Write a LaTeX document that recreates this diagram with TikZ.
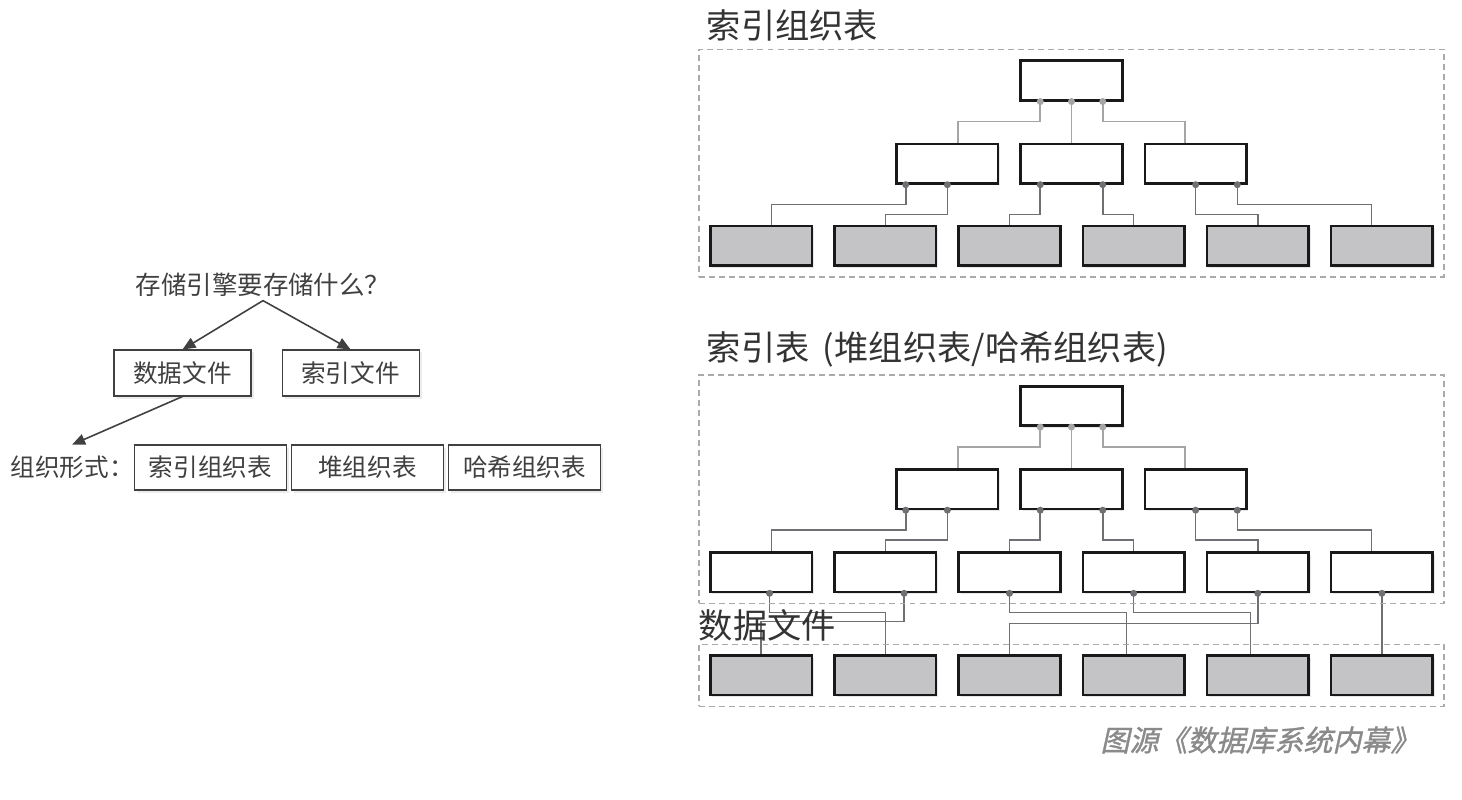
\documentclass[tikz,border=0pt]{standalone}
\usepackage{fontspec}
\usepackage{tikz}
\usetikzlibrary{arrows.meta, positioning, calc, fit, shadows}
\newfontfamily\cjk{Noto Sans CJK SC}
\newfontfamily\cjkslant[FakeSlant=0.22, FakeBold=1.2]{Noto Sans CJK SC}
\definecolor{linedark}{RGB}{64,64,64}
\definecolor{wiregray}{RGB}{112,112,116}
\definecolor{wirelight}{RGB}{165,165,165}
\definecolor{leafgray}{RGB}{196,196,198}
\definecolor{framegray}{RGB}{170,170,170}
\definecolor{capgray}{RGB}{138,138,138}

\begin{document}
\begin{tikzpicture}[
  pick/.style={rectangle, draw=linedark, fill=white, line width=0.6pt, minimum height=0.92cm, minimum width=2.74cm,
               inner sep=0pt, font=\cjk\fontsize{14}{16}\selectfont, text=linedark,
               drop shadow={shadow xshift=0.05cm, shadow yshift=-0.05cm, fill=gray!30}},
  form/.style={pick, minimum width=3.04cm, minimum height=0.9cm},
  idx/.style={rectangle, draw=black!90, fill=white, line width=1.5pt, minimum width=2.03cm, minimum height=0.79cm,
              inner sep=0pt, drop shadow={shadow xshift=0.04cm, shadow yshift=-0.04cm, fill=gray!35}},
  leafbox/.style={idx, fill=leafgray},
  frame/.style={draw=framegray, dash pattern=on 3.4pt off 2.3pt, line width=0.85pt, inner sep=0.2cm},
  heading/.style={anchor=south west, inner sep=0pt, font=\cjk\fontsize{19.5}{22}\selectfont, text=black!80},
  arrow/.style={-{Triangle[length=2.6mm, width=2.2mm]}, line width=0.9pt, linedark},
  wireA/.style={line width=0.9pt, wirelight},
  wireB/.style={line width=0.9pt, wiregray},
  jdotA/.style={circle, fill=wirelight, inner sep=0pt, minimum size=0.14cm},
  jdotB/.style={circle, fill=wiregray, inner sep=0pt, minimum size=0.14cm}
]
\useasboundingbox (0,0) rectangle (29.24,-16);

% left: what the storage engine stores
\node[font=\cjk\fontsize{14.5}{17}\selectfont, text=linedark, inner sep=2pt] (ask) at (5.26,-5.70) {存储引擎要存储什么？};
\node[pick] (datafile) at (3.65,-7.46) {数据文件};
\node[pick, right=0.6cm of datafile] (idxfile) {索引文件};

\node[form] (iot) at (4.21,-9.35) {索引组织表};
\node[form, right=0.08cm of iot] (heap) {堆组织表};
\node[form, right=0.08cm of heap] (hash) {哈希组织表};
\node[anchor=east, inner sep=0pt, minimum height=0.9cm, font=\cjk\fontsize{14}{16}\selectfont, text=linedark] (orgform) at (iot.west) {组织形式：};

\draw[arrow] (ask.south) -- (datafile.north);
\draw[arrow] (ask.south) -- (idxfile.north);
\draw[arrow] (datafile.south) -- (orgform.north);

% right, top: index-organized table
\node[idx] (t0) at (21.43,-1.61) {};
\node[idx, below=0.82cm of t0] (tm2) {};
\node[idx, left=0.4cm of tm2] (tm1) {};
\node[idx, right=0.4cm of tm2] (tm3) {};
\node[leafbox, below=0.8cm of tm2, xshift=-1.24cm] (tl3) {};
\node[leafbox, left=0.4cm of tl3] (tl2) {};
\node[leafbox, left=0.4cm of tl2] (tl1) {};
\node[leafbox, right=0.4cm of tl3] (tl4) {};
\node[leafbox, right=0.4cm of tl4] (tl5) {};
\node[leafbox, right=0.4cm of tl5] (tl6) {};

\draw[wireA] ($(t0.south west)!0.2!(t0.south east)$) node[jdotA]{} -- ++(0,-0.4) -| ($(tm1.north west)!0.6!(tm1.north east)$);
\draw[wireA] (t0.south) node[jdotA]{} -- (tm2.north);
\draw[wireA] ($(t0.south west)!0.8!(t0.south east)$) node[jdotA]{} -- ++(0,-0.4) -| ($(tm3.north west)!0.4!(tm3.north east)$);
\draw[wireB] ($(tm1.south west)!0.1!(tm1.south east)$) node[jdotB]{} -- ++(0,-0.4) -| ($(tl1.north west)!0.6!(tl1.north east)$);
\draw[wireB] (tm1.south) node[jdotB]{} -- ++(0,-0.6) -| (tl2.north);
\draw[wireB] ($(tm2.south west)!0.2!(tm2.south east)$) node[jdotB]{} -- ++(0,-0.6) -| (tl3.north);
\draw[wireB] ($(tm2.south west)!0.8!(tm2.south east)$) node[jdotB]{} -- ++(0,-0.6) -| (tl4.north);
\draw[wireB] (tm3.south) node[jdotB]{} -- ++(0,-0.6) -| (tl5.north);
\draw[wireB] ($(tm3.south west)!0.9!(tm3.south east)$) node[jdotB]{} -- ++(0,-0.4) -| ($(tl6.north west)!0.4!(tl6.north east)$);

\node[frame, fit=(t0)(tl1)(tl6)] (iotframe) {};
\node[heading] (iottitle) at ([xshift=0.16cm, yshift=0.14cm]iotframe.north west) {索引组织表};

% right, bottom: index table + data file
\node[idx] (b0) at (21.43,-8.12) {};
\node[idx, below=0.82cm of b0] (bm2) {};
\node[idx, left=0.4cm of bm2] (bm1) {};
\node[idx, right=0.4cm of bm2] (bm3) {};
\node[idx, below=0.82cm of bm2, xshift=-1.24cm] (bl3) {};
\node[idx, left=0.4cm of bl3] (bl2) {};
\node[idx, left=0.4cm of bl2] (bl1) {};
\node[idx, right=0.4cm of bl3] (bl4) {};
\node[idx, right=0.4cm of bl4] (bl5) {};
\node[idx, right=0.4cm of bl5] (bl6) {};

\node[leafbox, below=1.22cm of bl3] (bd3) {};
\node[leafbox, left=0.4cm of bd3] (bd2) {};
\node[leafbox, left=0.4cm of bd2] (bd1) {};
\node[leafbox, right=0.4cm of bd3] (bd4) {};
\node[leafbox, right=0.4cm of bd4] (bd5) {};
\node[leafbox, right=0.4cm of bd5] (bd6) {};

\draw[wireA] ($(b0.south west)!0.2!(b0.south east)$) node[jdotA]{} -- ++(0,-0.4) -| ($(bm1.north west)!0.6!(bm1.north east)$);
\draw[wireA] (b0.south) node[jdotA]{} -- (bm2.north);
\draw[wireA] ($(b0.south west)!0.8!(b0.south east)$) node[jdotA]{} -- ++(0,-0.4) -| ($(bm3.north west)!0.4!(bm3.north east)$);
\draw[wireB] ($(bm1.south west)!0.1!(bm1.south east)$) node[jdotB]{} -- ++(0,-0.4) -| ($(bl1.north west)!0.6!(bl1.north east)$);
\draw[wireB] (bm1.south) node[jdotB]{} -- ++(0,-0.6) -| (bl2.north);
\draw[wireB] ($(bm2.south west)!0.2!(bm2.south east)$) node[jdotB]{} -- ++(0,-0.6) -| (bl3.north);
\draw[wireB] ($(bm2.south west)!0.8!(bm2.south east)$) node[jdotB]{} -- ++(0,-0.6) -| (bl4.north);
\draw[wireB] (bm3.south) node[jdotB]{} -- ++(0,-0.6) -| (bl5.north);
\draw[wireB] ($(bm3.south west)!0.9!(bm3.south east)$) node[jdotB]{} -- ++(0,-0.4) -| ($(bl6.north west)!0.4!(bl6.north east)$);

\draw[wireB] ($(bl1.south west)!0.58!(bl1.south east)$) node[jdotB]{} -- ++(0,-0.38) -| (bd2.north);
\draw[wireB] ($(bl2.south west)!0.68!(bl2.south east)$) node[jdotB]{} -- ++(0,-0.56) -| (bd1.north);
\draw[wireB] (bl3.south) node[jdotB]{} -- ++(0,-0.38) -| ($(bd4.north west)!0.43!(bd4.north east)$);
\draw[wireB] (bl4.south) node[jdotB]{} -- ++(0,-0.38) -| ($(bd5.north west)!0.43!(bd5.north east)$);
\draw[wireB] (bl5.south) node[jdotB]{} -- ++(0,-0.6) -| (bd3.north);
\draw[wireB] (bl6.south) node[jdotB]{} -- (bd6.north);

\node[frame, fit=(b0)(bl1)(bl6)] (tabframe) {};
\node[heading] (tabtitle) at ([xshift=0.16cm, yshift=0.14cm]tabframe.north west) {索引表 \,(堆组织表/哈希组织表)};
\node[frame, fit=(bd1)(bd6)] (dataframe) {};
\node[heading] (datatitle) at ([yshift=0.04cm]dataframe.north west) {数据文件};

\node[font=\cjkslant\fontsize{16.5}{19}\selectfont, text=capgray] (source) at (25.2,-14.8) {图源《数据库系统内幕》};
\end{tikzpicture}
\end{document}
